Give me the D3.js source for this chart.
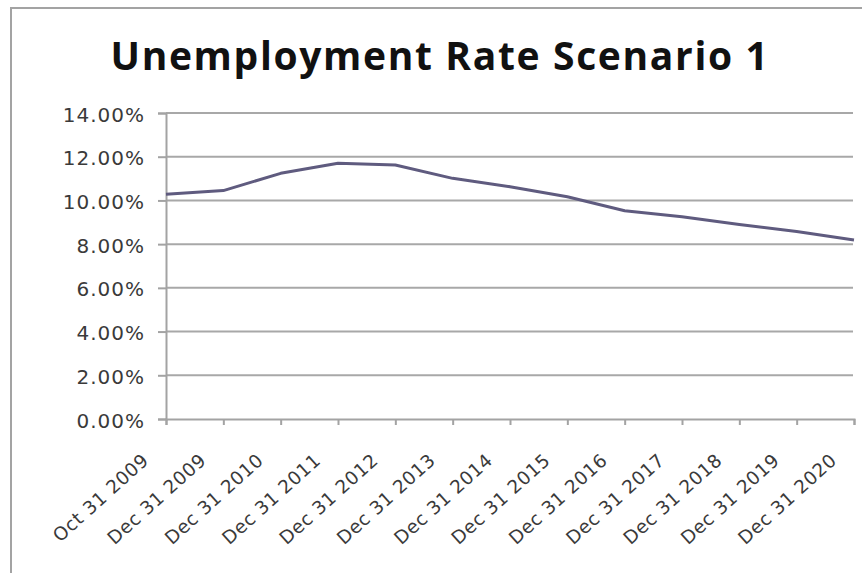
<!DOCTYPE html>
<html>
<head>
<meta charset="utf-8">
<script src="https://cdn.jsdelivr.net/npm/d3@7"></script>
<style>
    body { margin: 0; background: #fff; }
    #unemployment-chart text { fill: #3a3a3a; }
</style>
</head>
<body>
<div id="unemployment-chart"></div>
<script>
/**
 * Start unemployment chart
 *  */

var chartTitle = "Unemployment Rate Scenario 1";

var categories = ["Oct 31 2009", "Dec 31 2009", "Dec 31 2010", "Dec 31 2011", "Dec 31 2012",
    "Dec 31 2013", "Dec 31 2014", "Dec 31 2015", "Dec 31 2016", "Dec 31 2017",
    "Dec 31 2018", "Dec 31 2019", "Dec 31 2020"];

var rateValues = [10.28, 10.45, 11.24, 11.70, 11.62, 11.01, 10.63, 10.17, 9.53, 9.25, 8.90, 8.58, 8.19];

var yTicks = [0, 2, 4, 6, 8, 10, 12, 14];

drawUnemploymentChart(categories, rateValues);

function drawUnemploymentChart(categories, rateValues) {
    var marginChart = {
        top: 113,
        right: 8,
        bottom: 154,
        left: 166
    };

    var fullWidth = 862,
        fullHeight = 573;

    var widthChart = fullWidth - marginChart.left - marginChart.right,
        heightChart = fullHeight - marginChart.top - marginChart.bottom;

    var svgRoot = d3.select("#unemployment-chart").append("svg")
        .attr("width", fullWidth)
        .attr("height", fullHeight);

    // outer chart frame, runs off the right and bottom edges
    svgRoot.append("rect")
        .attr("x", 11)
        .attr("y", 8)
        .attr("width", 900)
        .attr("height", 620)
        .attr("fill", "none")
        .attr("stroke", "#a3a3a3")
        .attr("stroke-width", 2);

    svgRoot.append("text")
        .attr("x", 440)
        .attr("y", 70)
        .attr("text-anchor", "middle")
        .attr("font-family", "Open Sans")
        .attr("font-weight", "bold")
        .attr("font-size", "39px")
        .attr("letter-spacing", "1.65px")
        .style("fill", "#111")
        .text(chartTitle);

    var svgChart = svgRoot.append("g")
        .attr("transform", "translate(" + marginChart.left + "," + marginChart.top + ")");

    var xChart = d3.scalePoint()
        .range([0, widthChart])
        .domain(categories);

    var yChart = d3.scaleLinear()
        .range([heightChart, 0])
        .domain([0, 14]);

    // horizontal gridlines
    svgChart.append("g")
        .selectAll("line")
        .data(yTicks.filter(function (d) { return d > 0; }))
        .enter()
        .append("line")
        .attr("x1", 0)
        .attr("x2", widthChart - 1)
        .attr("y1", function (d) { return yChart(d); })
        .attr("y2", function (d) { return yChart(d); })
        .attr("stroke", "#a8a8a8")
        .attr("stroke-width", 2);

    var yAxisChart = d3.axisLeft(yChart)
        .tickValues(yTicks)
        .tickSize(8)
        .tickPadding(13)
        .tickFormat(function (d) { return d3.format(".2f")(d) + "%"; });

    var gyChart = svgChart.append("g")
        .attr("class", "y-axis")
        .call(yAxisChart);

    gyChart.selectAll("text")
        .attr("font-family", "DejaVu Sans")
        .attr("font-size", "20px")
        .attr("letter-spacing", "1px")
        .attr("dy", "0.4em");

    var xAxisChart = d3.axisBottom(xChart)
        .tickSize(6)
        .tickFormat("");

    var gxChart = svgChart.append("g")
        .attr("class", "x-axis")
        .attr("transform", "translate(0," + heightChart + ")")
        .call(xAxisChart);

    svgChart.selectAll(".domain, .tick line")
        .attr("stroke", "#a3a3a3")
        .attr("stroke-width", 2);

    // rotated category labels
    svgChart.append("g")
        .selectAll("text")
        .data(categories)
        .enter()
        .append("text")
        .attr("text-anchor", "end")
        .attr("font-family", "DejaVu Sans")
        .attr("font-size", "18.5px")
        .attr("letter-spacing", "0.6px")
        .attr("transform", function (d) {
            return "translate(" + (xChart(d) - 16) + "," + (heightChart + 43) + ") rotate(-42)";
        })
        .text(function (d) { return d; });

    var lineChart = d3.line()
        .x(function (d, i) { return xChart(categories[i]); })
        .y(function (d) { return yChart(d); });

    svgChart.append("path")
        .datum(rateValues)
        .attr("fill", "none")
        .attr("stroke", "#5f5b7f")
        .attr("stroke-width", 3)
        .attr("stroke-linejoin", "round")
        .attr("d", lineChart);
}

/**
 * End unemployment chart
 *  */
</script>
</body>
</html>
